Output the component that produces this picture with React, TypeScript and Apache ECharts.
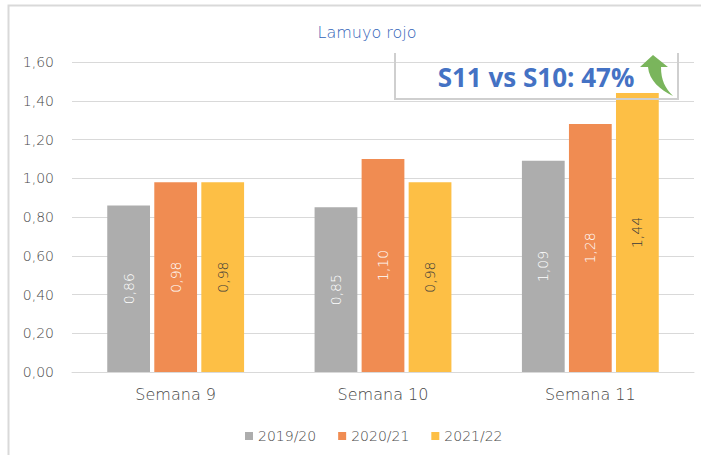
import React, { useEffect, useRef } from "react";
import * as echarts from "echarts";

const categories = ["Semana 9", "Semana 10", "Semana 11"];
const seriesNames = ["2019/20", "2020/21", "2021/22"];
const values2019 = [0.86, 0.85, 1.09];
const values2020 = [0.98, 1.1, 1.28];
const values2021 = [0.98, 0.98, 1.44];
const title = "Lamuyo rojo";
const note = "S11 vs S10: 47%";

const colors = ["#ADADAD", "#F08C52", "#FDBF45"];
const labelColors = ["#FFFFFF", "#FFFFFF", "#3A3A3A"];
const FONT = "'DejaVu Sans', sans-serif";
const W = 200;
const TXT = "#474747";

echarts.graphic.registerShape(
  "upArrow",
  echarts.graphic.extendPath(
    "M653,55 L668,67 L661,67 C661,80 665,88 673,96 C660,90 649,80 648,67 L640,67 Z",
    {}
  )
);

export default function App() {
  const ref = useRef<HTMLDivElement>(null);
  useEffect(() => {
    document.body.style.margin = "0";
    const chart = echarts.init(ref.current!, null, { renderer: "svg" });
    const data = [values2019, values2020, values2021];
    chart.setOption({
      animation: false,
      title: {
        text: title,
        left: 362,
        textAlign: "center",
        top: 19,
        textStyle: { color: "#3564B8", fontSize: 16, fontWeight: W, fontFamily: FONT },
      },
      legend: {
        data: seriesNames,
        top: 424,
        left: 240,
        itemWidth: 8,
        itemHeight: 8,
        itemGap: 22,
        icon: "rect",
        textStyle: { color: TXT, fontSize: 14, fontWeight: W, fontFamily: FONT },
      },
      grid: { left: 72, right: 7, top: 62, bottom: 83 },
      xAxis: {
        type: "category",
        data: categories,
        axisLine: { lineStyle: { color: "#D9D9D9", width: 1 } },
        axisTick: { show: false },
        axisLabel: { color: TXT, fontSize: 16, fontWeight: W, fontFamily: FONT, margin: 14 },
      },
      yAxis: {
        type: "value",
        min: 0,
        max: 1.6,
        interval: 0.2,
        axisLine: { show: false },
        axisTick: { show: false },
        splitLine: { lineStyle: { color: "#D9D9D9", width: 1 } },
        axisLabel: {
          color: TXT,
          fontSize: 14,
          fontWeight: W,
          fontFamily: FONT,
          margin: 18,
          formatter: (v: number) => v.toFixed(2).replace(".", ","),
        },
      },
      series: seriesNames.map((name, i) => ({
        name,
        type: "bar",
        data: data[i],
        barGap: "10%",
        barCategoryGap: "34%",
        itemStyle: { color: colors[i] },
        label: {
          show: true,
          position: "inside",
          rotate: 90,
          color: labelColors[i],
          fontSize: 14,
          fontWeight: W,
          fontFamily: FONT,
          formatter: (p: any) => Number(p.value).toFixed(2).replace(".", ","),
        },
      })),
      graphic: [
        {
          type: "rect",
          shape: { x: 8.5, y: 5.5, width: 720, height: 470 },
          style: { fill: "none", stroke: "#D9D9D9", lineWidth: 2 },
          silent: true,
          z: -1,
        },
        {
          type: "polyline",
          shape: { points: [[395, 53], [395, 99], [678, 99], [678, 53]] },
          style: { fill: "none", stroke: "#CFCFCF", lineWidth: 2 },
          z: 10,
        },
        {
          type: "text",
          x: 536,
          y: 77,
          style: {
            text: note,
            fill: "#4472C4",
            font: "bold 26px 'Liberation Sans Narrow', 'Open Sans', sans-serif",
            align: "center",
            verticalAlign: "middle",
          },
          z: 11,
        },
        {
          type: "upArrow",
          x: 0,
          y: 0,
          style: { fill: "#7AB55C" },
          z: 11,
        },
      ],
    });
    return () => chart.dispose();
  }, []);
  return <div ref={ref} style={{ width: 701, height: 455 }} />;
}
